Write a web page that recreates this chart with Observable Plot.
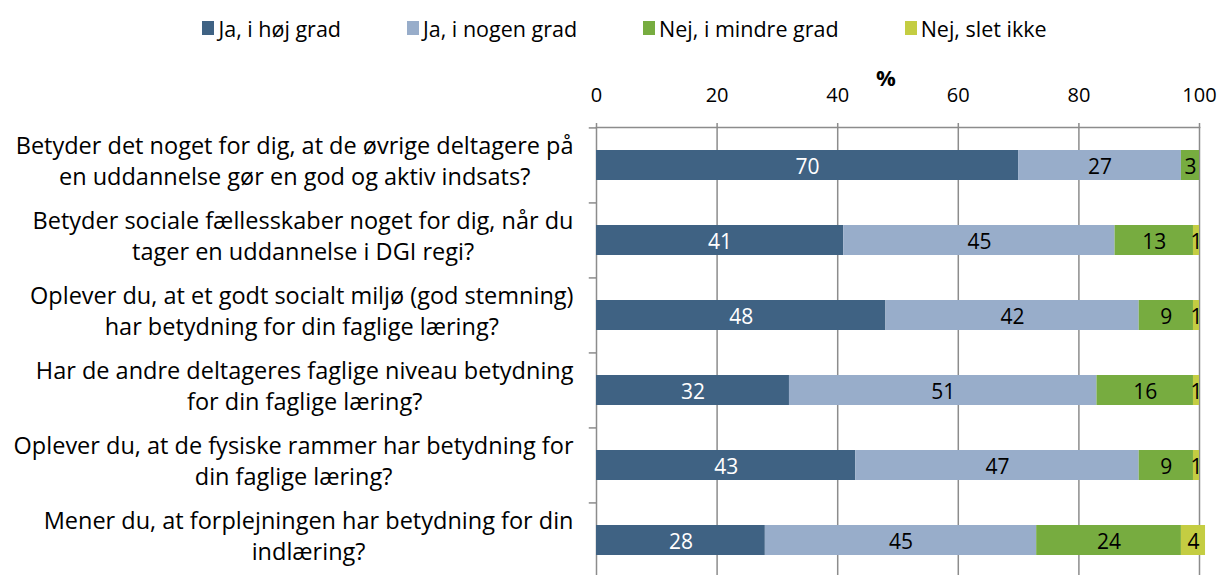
<!DOCTYPE html>
<html>
<head>
<meta charset="utf-8">
<script src="https://cdn.jsdelivr.net/npm/d3@7"></script>
<script src="https://cdn.jsdelivr.net/npm/@observablehq/plot@0.6"></script>
<style>
  html, body { margin: 0; padding: 0; background: #fff; }
  body { width: 1219px; height: 575px; overflow: hidden; font-family: "Open Sans", Lato, sans-serif; }
  #legend { height: 56px; display: flex; justify-content: center; align-items: center; gap: 66px; font-size: 21.5px; color: #000; padding-left: 30px; box-sizing: border-box; }
  #legend .item { display: flex; align-items: center; gap: 4px; }
  #legend .sw { width: 12px; height: 14px; display: inline-block; }
</style>
</head>
<body>
<div id="legend"></div>
<div id="chart"></div>
<script>
const questions = [
  "Betyder det noget for dig, at de øvrige deltagere på\nen uddannelse gør en god og aktiv indsats?",
  "Betyder sociale fællesskaber noget for dig, når du\ntager en uddannelse i DGI regi?",
  "Oplever du, at et godt socialt miljø (god stemning)\nhar betydning for din faglige læring?",
  "Har de andre deltageres faglige niveau betydning\nfor din faglige læring?",
  "Oplever du, at de fysiske rammer har betydning for\ndin faglige læring?",
  "Mener du, at forplejningen har betydning for din\nindlæring?"
];
const seriesNames = ["Ja, i høj grad", "Ja, i nogen grad", "Nej, i mindre grad", "Nej, slet ikke"];
const seriesColors = ["#3f6283", "#98adca", "#77ac40", "#c4cd42"];
const labelColors = ["#ffffff", "#000000", "#000000", "#000000"];
const hojGrad    = [70, 41, 48, 32, 43, 28];
const nogenGrad  = [27, 45, 42, 51, 47, 45];
const mindreGrad = [3, 13, 9, 16, 9, 24];
const sletIkke   = [0, 1, 1, 1, 1, 4];
const xTicks = [0, 20, 40, 60, 80, 100];

const seriesValues = [hojGrad, nogenGrad, mindreGrad, sletIkke];
const data = [];
questions.forEach((q, i) => {
  seriesNames.forEach((s, j) => {
    data.push({question: q, series: s, value: seriesValues[j][i], si: j});
  });
});

// legend
const legend = document.getElementById("legend");
seriesNames.forEach((s, j) => {
  const it = document.createElement("div");
  it.className = "item";
  const sw = document.createElement("span");
  sw.className = "sw";
  sw.style.background = seriesColors[j];
  const t = document.createElement("span");
  t.textContent = s;
  it.appendChild(sw); it.appendChild(t);
  legend.appendChild(it);
});

const W = 1219, H = 519;
const yTop = 71, yBottom = 522;
const step = (yBottom - yTop) / questions.length;
const gridColor = "#8c8c8c";
const fam = "'Open Sans', Lato, sans-serif";

const chart = Plot.plot({
  width: W,
  height: H,
  marginTop: yTop,
  marginBottom: 0,
  marginLeft: 596,
  marginRight: 20,
  style: {fontFamily: fam, fontSize: "20px", color: "#000", background: "#fff"},
  x: {domain: [0, 100], label: null},
  y: {domain: questions, range: [yTop, yBottom], paddingInner: 0.6, paddingOuter: 0.3, label: null, axis: null},
  color: {domain: seriesNames, range: seriesColors},
  marks: [
    Plot.ruleX(xTicks, {stroke: gridColor, strokeWidth: 1.5}),
    Plot.frame({anchor: "top", stroke: gridColor, strokeWidth: 1.5}),
    Plot.ruleY(questions, {y: d => d, x1: -1.2, x2: 0, dy: -step / 2, stroke: gridColor, strokeWidth: 1.5}),
    Plot.barX(data, Plot.stackX({x: "value", y: "question", fill: "series", order: null})),
    Plot.text(data.filter(d => d.value > 0), Plot.stackX({
      x: "value", y: "question", z: "series", order: null,
      text: d => String(d.value),
      fill: d => labelColors[d.si],
      fontSize: 21, dy: 2
    })),
    Plot.axisX(xTicks, {anchor: "top", tickSize: 5, tickPadding: 21, stroke: gridColor, strokeWidth: 1.5, fontSize: 20, label: null}),
    Plot.text(questions, {
      x: 0, y: d => d, text: d => d, textAnchor: "end", dx: -23, dy: -6,
      lineHeight: 1.33, fontSize: 23.5, fill: "#000", className: "qlabels"
    }),
    Plot.text(["%"], {frameAnchor: "top", text: d => d, dy: -57, dx: -12, fontSize: 22, fontWeight: "bold", fill: "#000"})
  ]
});
document.getElementById("chart").appendChild(chart);

// center multi-line question labels within their right-aligned block (Excel style)
chart.querySelectorAll(".qlabels text").forEach(t => {
  const spans = Array.from(t.querySelectorAll("tspan"));
  if (!spans.length) return;
  const widths = spans.map(s => s.getComputedTextLength());
  const maxW = Math.max(...widths);
  t.setAttribute("text-anchor", "middle");
  spans.forEach(s => s.setAttribute("x", -maxW / 2));
});
</script>
</body>
</html>
